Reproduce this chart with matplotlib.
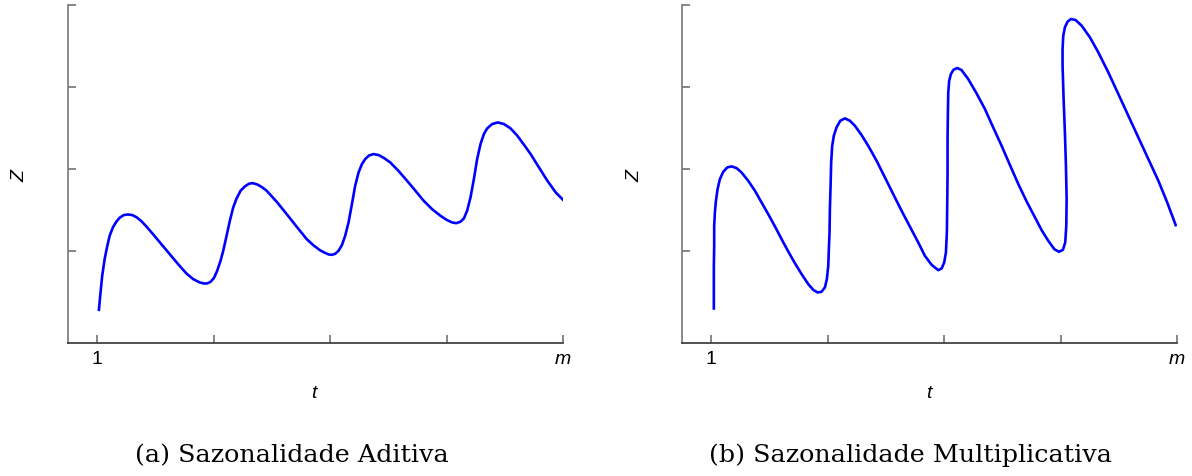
import matplotlib
matplotlib.use("Agg")
from matplotlib import pyplot as plt

# sazonalidade aditiva
t_adit = [1.016, 1.027, 1.044, 1.065, 1.085, 1.108, 1.136, 1.165, 1.194, 1.228, 1.265, 1.303,
          1.337, 1.380, 1.423, 1.480, 1.552, 1.624, 1.696, 1.767, 1.825, 1.882, 1.917, 1.945,
          1.974, 2.003, 2.031, 2.060, 2.083, 2.112, 2.140, 2.169, 2.198, 2.232, 2.269, 2.304,
          2.335, 2.375, 2.416, 2.456, 2.542, 2.628, 2.714, 2.800, 2.857, 2.915, 2.958, 2.987,
          3.016, 3.044, 3.073, 3.102, 3.130, 3.159, 3.188, 3.216, 3.245, 3.274, 3.302, 3.336,
          3.374, 3.417, 3.460, 3.517, 3.589, 3.661, 3.733, 3.804, 3.876, 3.948, 4.005, 4.048,
          4.083, 4.120, 4.149, 4.177, 4.206, 4.235, 4.263, 4.292, 4.321, 4.349, 4.392, 4.441,
          4.493, 4.550, 4.608, 4.665, 4.722, 4.794, 4.866, 4.938, 5.000]
z_adit = [0.285, 0.455, 0.699, 0.902, 1.045, 1.187, 1.289, 1.358, 1.407, 1.439, 1.447, 1.439,
          1.415, 1.366, 1.301, 1.207, 1.085, 0.963, 0.841, 0.728, 0.659, 0.618, 0.606, 0.606,
          0.626, 0.671, 0.760, 0.882, 1.004, 1.187, 1.370, 1.533, 1.642, 1.736, 1.789, 1.821,
          1.829, 1.813, 1.780, 1.736, 1.602, 1.451, 1.297, 1.146, 1.072, 1.010, 0.978, 0.960,
          0.955, 0.967, 1.004, 1.073, 1.187, 1.350, 1.573, 1.797, 1.959, 2.061, 2.122, 2.167,
          2.183, 2.171, 2.138, 2.081, 1.976, 1.858, 1.736, 1.614, 1.512, 1.431, 1.378, 1.350,
          1.341, 1.358, 1.398, 1.492, 1.654, 1.878, 2.122, 2.305, 2.427, 2.496, 2.549, 2.569,
          2.549, 2.496, 2.407, 2.297, 2.183, 2.020, 1.858, 1.715, 1.626]

# sazonalidade multiplicativa
t_mult = [1.021, 1.021, 1.021, 1.024, 1.024, 1.030, 1.039, 1.053, 1.073, 1.102, 1.136, 1.173,
          1.216, 1.259, 1.316, 1.374, 1.431, 1.488, 1.546, 1.603, 1.660, 1.717, 1.775, 1.832,
          1.875, 1.912, 1.946, 1.975, 1.992, 2.004, 2.009, 2.015, 2.018, 2.024, 2.029, 2.038,
          2.052, 2.075, 2.107, 2.147, 2.190, 2.233, 2.290, 2.347, 2.419, 2.491, 2.562, 2.634,
          2.706, 2.777, 2.834, 2.892, 2.949, 2.978, 3.000, 3.015, 3.023, 3.026, 3.029, 3.029,
          3.032, 3.035, 3.043, 3.058, 3.080, 3.112, 3.149, 3.206, 3.278, 3.350, 3.421, 3.493,
          3.565, 3.637, 3.708, 3.780, 3.837, 3.894, 3.946, 3.986, 4.020, 4.040, 4.049, 4.052,
          4.046, 4.037, 4.026, 4.017, 4.017, 4.023, 4.037, 4.060, 4.089, 4.129, 4.181, 4.252,
          4.324, 4.410, 4.496, 4.582, 4.668, 4.754, 4.840, 4.917, 4.989]
z_mult = [0.301, 0.577, 0.821, 1.065, 1.309, 1.472, 1.614, 1.756, 1.878, 1.967, 2.020, 2.033,
          2.012, 1.959, 1.858, 1.736, 1.593, 1.451, 1.301, 1.146, 0.996, 0.854, 0.720, 0.598,
          0.528, 0.496, 0.504, 0.557, 0.659, 0.821, 1.024, 1.228, 1.512, 1.797, 2.081, 2.285,
          2.407, 2.508, 2.589, 2.618, 2.589, 2.528, 2.415, 2.285, 2.102, 1.898, 1.695, 1.492,
          1.297, 1.106, 0.943, 0.833, 0.768, 0.789, 0.862, 0.984, 1.228, 1.553, 1.959, 2.366,
          2.691, 2.935, 3.077, 3.159, 3.211, 3.232, 3.207, 3.098, 2.923, 2.732, 2.508, 2.285,
          2.049, 1.817, 1.606, 1.411, 1.256, 1.126, 1.024, 0.992, 1.016, 1.106, 1.309, 1.634,
          2.041, 2.447, 2.854, 3.260, 3.463, 3.626, 3.728, 3.797, 3.829, 3.817, 3.748, 3.606,
          3.423, 3.179, 2.915, 2.650, 2.386, 2.122, 1.858, 1.590, 1.317]

xticks = [1, 2, 3, 4, 5]
xticklabels = ["1", "", "", "", "$m$"]
yticks = [1, 2, 3, 4]
legendas = ["(a) Sazonalidade Aditiva", "(b) Sazonalidade Multiplicativa"]

plt.rcParams["font.family"] = "Liberation Sans"
plt.rcParams["mathtext.fontset"] = "custom"
plt.rcParams["mathtext.it"] = "Liberation Sans:italic"
plt.rcParams["mathtext.rm"] = "Liberation Sans"

fig = plt.figure(figsize=(11.92, 4.77), dpi=100)
ax1 = fig.add_axes([0.0570, 0.2788, 0.4153, 0.7086])
ax2 = fig.add_axes([0.5724, 0.2788, 0.4150, 0.7086])

series = [(t_adit, z_adit), (t_mult, z_mult)]
for ax, (t, z) in zip([ax1, ax2], series):
    ax.plot(t, z, color="#0000ff", linewidth=1.9, solid_joinstyle="round")
    ax.set_xlim(0.75, 5.0)
    ax.set_ylim(-0.12, 4.0)
    ax.spines["top"].set_visible(False)
    ax.spines["right"].set_visible(False)
    ax.spines["left"].set_color("#777777")
    ax.spines["bottom"].set_color("#333333")
    ax.spines["left"].set_linewidth(1.2)
    ax.spines["bottom"].set_linewidth(1.2)
    ax.set_xticks(xticks)
    ax.set_xticklabels(xticklabels)
    ax.set_yticks(yticks)
    ax.set_yticklabels([])
    ax.tick_params(direction="in", length=6, width=1.1, color="#666666", labelsize=14, pad=5)
    ax.set_xlabel("$t$", fontsize=14, labelpad=12)
    ax.set_ylabel("$Z$", fontsize=14)
    ax.yaxis.set_label_coords(-0.08, 0.5)

# legendas das subfiguras
fig.text(0.245, 0.045, legendas[0], ha="center", va="center", fontsize=18.3, family="DejaVu Serif")
fig.text(0.7635, 0.045, legendas[1], ha="center", va="center", fontsize=18.3, family="DejaVu Serif")

fig.savefig("out.png", dpi=100)
